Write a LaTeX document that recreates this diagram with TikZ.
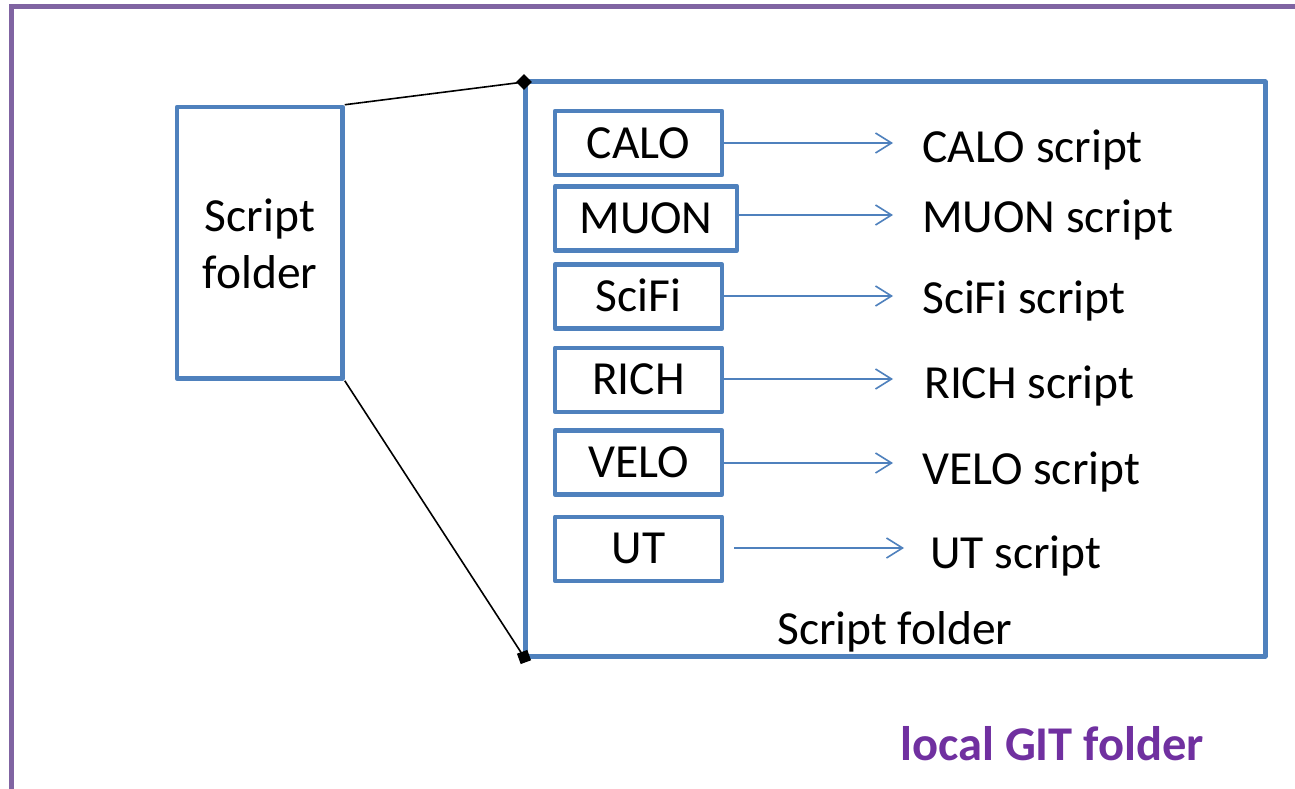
\documentclass[tikz,border=0pt]{standalone}
\usepackage{fontspec}
\setmainfont{Carlito}
\usetikzlibrary{arrows.meta,shapes.geometric}
\definecolor{boxblue}{HTML}{4F81BD}
\definecolor{framepurple}{HTML}{8064A2}
\definecolor{textpurple}{HTML}{7030A0}
\tikzset{
  big/.style={font=\fontsize{47.5}{57}\selectfont},
  detbox/.style={draw=boxblue, line width=4.5pt, line join=round, rectangle,
    minimum width=167pt, minimum height=64pt, inner sep=0pt,
    text height=30pt, text depth=0pt, big},
  folderbox/.style={draw=boxblue, line width=5pt, line join=round, rectangle, inner sep=0pt},
  arr/.style={draw=boxblue, line width=1.6pt, -{Straight Barb[length=16pt,width=20pt,line width=1.6pt]}},
  lbl/.style={anchor=base west, inner sep=0pt, big},
  zoomline/.style={draw=black, line width=1.6pt},
}
\begin{document}
\begin{tikzpicture}[x=1pt,y=-1pt]
\useasboundingbox (0,0) rectangle (1295,789);
\fill[white] (0,0) rectangle (1295,789);

% outer frame of the repository
\draw[framepurple, line width=5pt] (11,789) -- (11,7) -- (1295,7);
\node[anchor=base west, inner sep=0pt, font=\fontsize{48.5}{57}\selectfont\bfseries, text=textpurple] (git) at (900,760) {local GIT folder};

% folder shown on the left and its enlarged view
\node[folderbox, line width=4.5pt, minimum width=165.5pt, minimum height=271.5pt] (sf) at (259.75,242.75) {};
\node[big, align=center, inner sep=0pt] (sftext) at (260,244) {Script\\folder};

\node[folderbox, minimum width=740pt, minimum height=574pt] (bigf) at (895,369) {};
\node[lbl] (bigtext) at (777,644) {Script folder};

\node[diamond, fill=black, inner sep=0pt, minimum size=16pt] (m1) at (524,82) {};
\node[rectangle, fill=black, inner sep=0pt, minimum size=11pt, rotate=20] (m2) at (524,657) {};
\draw[zoomline] (sf.north east) -- (m1.center);
\draw[zoomline] (sf.south east) -- (m2.center);

% detector sub-folders
\node[detbox] (calo)  at (638.5,143)   {CALO};
\node[detbox, minimum width=182pt] (muon) at (646,218.25) {MUON};
\node[detbox] (scifi) at (638.5,296.5) {SciFi};
\node[detbox] (rich)  at (638.5,379.75){RICH};
\node[detbox] (velo)  at (638.5,462.5) {VELO};
\node[detbox] (ut)    at (638.5,548.75){UT};

% arrow targets
\coordinate (t1) at (893,143);
\coordinate (t2) at (893,215);
\coordinate (t3) at (893,296);
\coordinate (t4) at (893,379);
\coordinate (t5) at (893,463);
\coordinate (t6) at (904,548);

\draw[arr] (calo.east |- t1) -- (t1);
\draw[arr] (muon.east |- t2) -- (t2);
\draw[arr] (scifi.east |- t3) -- (t3);
\draw[arr] (rich.east |- t4) -- (t4);
\draw[arr] (velo.east |- t5) -- (t5);
\draw[arr, shorten <=10pt] (ut.east |- t6) -- (t6);

% script files
\node[lbl] (s1) at (922,162) {CALO script};
\node[lbl] (s2) at (922,232) {MUON script};
\node[lbl] (s3) at (922,313) {SciFi script};
\node[lbl] (s4) at (924,398) {RICH script};
\node[lbl] (s5) at (922,484) {VELO script};
\node[lbl] (s6) at (930,568) {UT script};
\end{tikzpicture}
\end{document}
